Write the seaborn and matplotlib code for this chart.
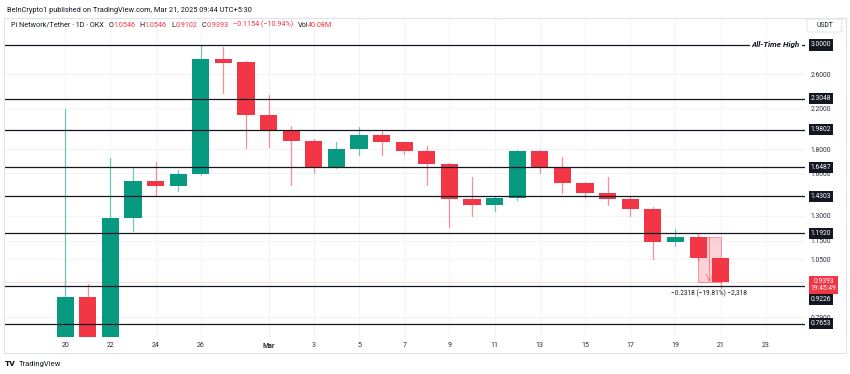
import numpy as np
import pandas as pd
import matplotlib
matplotlib.use("Agg")
import matplotlib.pyplot as plt
import matplotlib.transforms as mtransforms
from matplotlib.patches import Rectangle, FancyBboxPatch
from matplotlib.offsetbox import TextArea, HPacker, AnchoredOffsetbox
from matplotlib.ticker import FixedLocator, NullLocator, FuncFormatter
import seaborn as sns

# ---------------- data ----------------
dates = ["2025-02-20", "2025-02-21", "2025-02-22", "2025-02-23", "2025-02-24",
         "2025-02-25", "2025-02-26", "2025-02-27", "2025-02-28", "2025-03-01",
         "2025-03-02", "2025-03-03", "2025-03-04", "2025-03-05", "2025-03-06",
         "2025-03-07", "2025-03-08", "2025-03-09", "2025-03-10", "2025-03-11",
         "2025-03-12", "2025-03-13", "2025-03-14", "2025-03-15", "2025-03-16",
         "2025-03-17", "2025-03-18", "2025-03-19", "2025-03-20", "2025-03-21"]
opens = [0.62, 0.872, 0.70, 1.283, 1.540, 1.505, 1.591, 2.800, 2.756, 2.129,
         1.978, 1.877, 1.650, 1.805, 1.927, 1.862, 1.784, 1.677, 1.408, 1.369,
         1.417, 1.787, 1.647, 1.528, 1.450, 1.410, 1.345, 1.144, 1.170, 1.0546]
highs = [2.190, 0.930, 1.721, 1.644, 1.693, 1.626, 3.000, 2.975, 2.778, 2.348,
         2.017, 1.889, 1.865, 2.004, 1.971, 1.866, 1.829, 1.680, 1.568, 1.433,
         1.790, 1.790, 1.730, 1.530, 1.568, 1.426, 1.358, 1.217, 1.195, 1.0546]
lows = [0.60, 0.64, 0.69, 1.208, 1.433, 1.469, 1.585, 2.375, 1.808, 1.823,
        1.510, 1.604, 1.645, 1.750, 1.750, 1.758, 1.510, 1.231, 1.299, 1.332,
        1.403, 1.604, 1.454, 1.426, 1.369, 1.299, 1.051, 1.122, 1.046, 0.9102]
closes = [0.874, 0.70, 1.283, 1.540, 1.505, 1.591, 2.801, 2.751, 2.129, 1.978,
          1.877, 1.650, 1.805, 1.927, 1.862, 1.784, 1.677, 1.408, 1.369, 1.417,
          1.787, 1.647, 1.528, 1.450, 1.410, 1.345, 1.144, 1.170, 1.0546, 0.9393]

levels = [3.0000, 2.3048, 1.9802, 1.6487, 1.4303, 1.1920, 0.9226, 0.7653]
level_labels = ["3.0000", "2.3048", "1.9802", "1.6487", "1.4303", "1.1920", "0.9226", "0.7653"]
price_ticks = [2.6, 2.2, 1.8, 1.6, 1.3, 1.15, 1.05, 0.79]
tick_dates = ["2025-02-20", "2025-02-22", "2025-02-24", "2025-02-26", "2025-03-01",
              "2025-03-03", "2025-03-05", "2025-03-07", "2025-03-09", "2025-03-11",
              "2025-03-13", "2025-03-15", "2025-03-17", "2025-03-19", "2025-03-21",
              "2025-03-23"]
tick_labels = ["20", "22", "24", "26", "Mar", "3", "5", "7", "9", "11", "13", "15",
               "17", "19", "21", "23"]
last_price = 0.9393
measure_top = 1.1711
measure_dates = ["2025-03-20", "2025-03-21"]

# ---------------- style ----------------
GREEN = "#089981"
RED = "#F23645"
DARK = "#131722"
sns.set_theme(style="white")
plt.rcParams["font.family"] = ["Roboto", "DejaVu Sans"]
plt.rcParams["axes.unicode_minus"] = True

W, H = 850, 374
fig = plt.figure(figsize=(W / 100, H / 100), dpi=100)
fig.patch.set_facecolor("white")


def fx(px):
    return px / W


def fy(py):
    return 1 - py / H


t0 = pd.Timestamp(dates[0])
day = lambda d: (pd.Timestamp(d) - t0).days

df = pd.DataFrame({"date": pd.to_datetime(dates), "open": opens, "high": highs,
                   "low": lows, "close": closes})
df["x"] = (df["date"] - t0).dt.days
df["dir"] = np.where(df["close"] >= df["open"], "up", "down")

# outer frame
fig.add_artist(Rectangle((fx(4), fy(353)), (846 - 4) / W, (353 - 18) / H,
                         transform=fig.transFigure, fill=False,
                         edgecolor="#e0e3eb", lw=0.8))

ax = fig.add_axes([fx(4), fy(337), (805 - 4) / W, (337 - 18) / H])
ax.set_facecolor("white")
ax.set_yscale("log")

# wicks via seaborn
wick = pd.concat([
    df[["x", "low", "dir"]].rename(columns={"low": "y"}),
    df[["x", "high", "dir"]].rename(columns={"high": "y"}),
]).sort_values("x")
wick["unit"] = wick["x"]
sns.lineplot(data=wick, x="x", y="y", units="unit", estimator=None, hue="dir",
             palette={"up": GREEN, "down": RED}, legend=False, sort=False,
             linewidth=0.9, alpha=0.55, ax=ax, zorder=2)

# bodies
body_bottom = np.minimum(df["open"], df["close"])
body_h = np.abs(df["close"] - df["open"])
colors = [GREEN if d == "up" else RED for d in df["dir"]]
ax.bar(df["x"], body_h, bottom=body_bottom, width=0.76, color=colors,
       linewidth=0, zorder=3)

ax.set_xlim(-2.71, 32.73)
ax.set_ylim(0.717, 3.424)
ax.set_xlabel("")
ax.set_ylabel("")
for s in ax.spines.values():
    s.set_visible(False)

# y axis on right
ax.yaxis.tick_right()
ax.yaxis.set_major_locator(FixedLocator(price_ticks))
ax.yaxis.set_minor_locator(NullLocator())
ax.yaxis.set_major_formatter(FuncFormatter(lambda v, _: f"{v:.4f}"))
ax.tick_params(axis="y", length=0, pad=11.5, labelsize=4.9, labelcolor="#2a2e39")
plt.setp(ax.yaxis.get_majorticklabels(), ha="center")

# x axis
ax.xaxis.set_major_locator(FixedLocator([day(d) for d in tick_dates]))
ax.set_xticklabels(tick_labels)
ax.xaxis.set_minor_locator(NullLocator())
ax.tick_params(axis="x", length=0, pad=3.5, labelsize=5.0, labelcolor="#2a2e39")
for lab in ax.get_xticklabels():
    if lab.get_text() == "Mar":
        lab.set_fontweight("bold")

ax.grid(True, color="#f3f4f8", lw=0.8)
ax.set_axisbelow(True)

# current price line
ax.axhline(last_price, color=RED, lw=0.6, ls=(0, (1, 1)), alpha=0.4, zorder=1.4)

# measurement box
mx0, mx1 = day(measure_dates[0]), day(measure_dates[1])
ax.add_patch(Rectangle((mx0, last_price), mx1 - mx0, measure_top - last_price,
                       facecolor=(0.949, 0.212, 0.271, 0.22),
                       edgecolor=(0.949, 0.212, 0.271, 0.45), lw=0.7, zorder=1.5))
ax.annotate("", xy=((mx0 + mx1) / 2, last_price), xytext=((mx0 + mx1) / 2, measure_top),
            arrowprops=dict(arrowstyle="->", color=(0.949, 0.212, 0.271, 0.6),
                            lw=0.6, shrinkA=0, shrinkB=0), zorder=1.6)
ax.annotate("\u22120.2318 (\u221219.81%) \u22122,318", xy=((mx0 + mx1) / 2, last_price),
            xytext=(0, -8.6), textcoords="offset points", ha="center", va="center",
            fontsize=4.7, color=DARK, zorder=6)

# level lines
for lv in levels:
    ax.axhline(lv, color=DARK, lw=0.9, zorder=4)

trans = mtransforms.blended_transform_factory(ax.transAxes, ax.transData)
for lv, lab in zip(levels, level_labels):
    dy = -10.2 if lab == "0.9226" else 0
    ax.annotate(lab, xy=(1.02, lv), xycoords=trans, xytext=(0, dy),
                textcoords="offset points", ha="center", va="center",
                fontsize=4.9, color="white", annotation_clip=False, zorder=7,
                bbox=dict(boxstyle="square,pad=0.3", fc=DARK, ec="none"))

ax.annotate(f"{last_price:.4f}\n19:45:49", xy=(1.023, last_price), xycoords=trans,
            xytext=(0, 2.6), textcoords="offset points", ha="center", va="top",
            fontsize=4.9, color="white", linespacing=1.0, annotation_clip=False,
            zorder=8, bbox=dict(boxstyle="square,pad=0.3", fc=RED, ec="none"))

ax.text((800 - 4) / 801, 3.0, "All-Time High", transform=trans, ha="right",
        va="center", fontsize=5.8, style="italic", weight="bold", color=DARK,
        zorder=5, bbox=dict(boxstyle="square,pad=0.25", fc="white", ec="none"))

# legend line inside chart
def ta(s, c):
    return TextArea(s, textprops=dict(color=c, fontsize=5.2))


groups = [
    ta("Pi Network/Tether \u00b7 1D \u00b7 OKX", DARK),
    HPacker(children=[ta("O", DARK), ta("1.0546", RED)], sep=0, pad=0),
    HPacker(children=[ta("H", DARK), ta("1.0546", RED)], sep=0, pad=0),
    HPacker(children=[ta("L", DARK), ta("0.9102", RED)], sep=0, pad=0),
    HPacker(children=[ta("C", DARK), ta("0.9393", RED)], sep=0, pad=0),
    ta("\u22120.1154 (\u221210.94%)", RED),
    HPacker(children=[ta("Vol", DARK), ta("40.08M", RED)], sep=0, pad=0),
]
legend_box = HPacker(children=groups, sep=3.2, pad=0, align="baseline")
anch = AnchoredOffsetbox(loc="upper left", child=legend_box, pad=0, borderpad=0,
                         frameon=False, bbox_to_anchor=(fx(11), fy(21)),
                         bbox_transform=fig.transFigure)
fig.add_artist(anch)

# header
fig.text(fx(7), fy(10), "BeInCrypto1 published on TradingView.com, Mar 21, 2025 09:44 UTC+5:30",
         fontsize=5.35, color=DARK, va="center", ha="left")

# USDT box
fig.add_artist(FancyBboxPatch((fx(807), fy(32)), (842 - 807) / W, (32 - 19) / H,
                              boxstyle="round,pad=0,rounding_size=0.004",
                              transform=fig.transFigure, fc="white",
                              ec="#e0e3eb", lw=0.7))
fig.text(fx(824.5), fy(25.7), "USDT", fontsize=4.9, color=DARK, ha="center", va="center")

# footer logo
fig.text(fx(5), fy(364), "TV", fontsize=6, weight="heavy", color=DARK, va="center")
fig.text(fx(19), fy(364), "TradingView", fontsize=5.5, color=DARK, va="center")

fig.savefig("out.png", dpi=100, facecolor="white")
